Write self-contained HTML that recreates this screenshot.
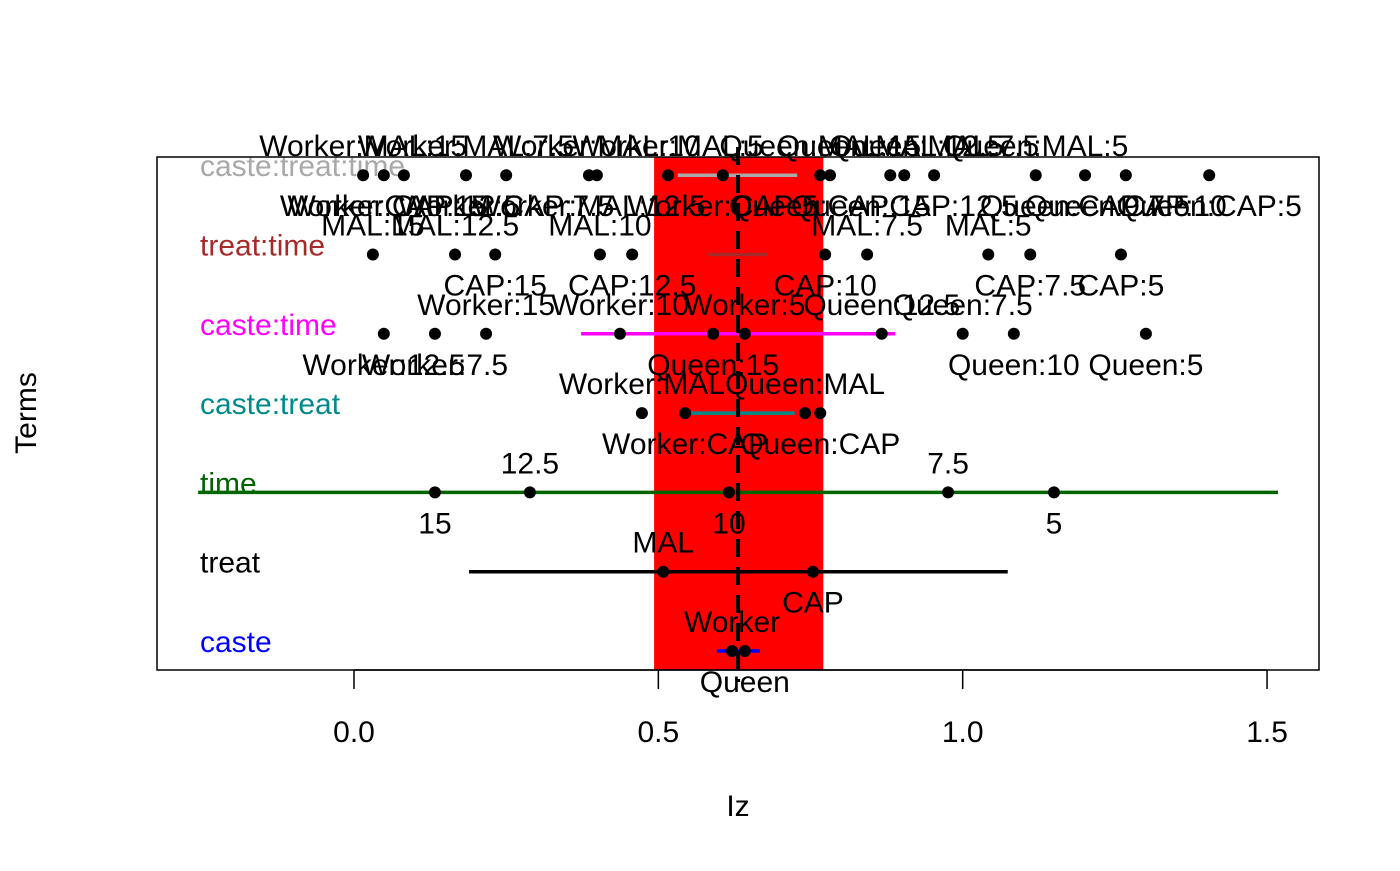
<!DOCTYPE html>
<html><head><meta charset="utf-8"><style>
html,body{margin:0;padding:0;background:#fff}
svg text{font-family:"Liberation Sans",Arial,sans-serif}
</style></head><body>
<svg id="chart" width="1400" height="866" viewBox="0 0 1400 866" xmlns="http://www.w3.org/2000/svg"></svg>
<script>
const rowNames=["caste","treat","time","caste:treat","caste:time","treat:time","caste:treat:time"];
const rowColors=["#0000ff","#000000","#006400","#008b8b","#ff00ff","#a52a2a","#a9a9a9"];
const intervalLo=[0.596,0.189,-0.256,0.552,0.373,0.582,0.532];
const intervalHi=[0.667,1.074,1.518,0.724,0.889,0.680,0.728];
const vCaste=[0.621,0.642];
const lCaste=["Worker","Queen"];
const pCaste=[1,-1];
const vTreat=[0.508,0.754];
const lTreat=["MAL","CAP"];
const pTreat=[1,-1];
const vTime=[0.133,0.289,0.616,0.976,1.150];
const lTime=["15","12.5","10","7.5","5"];
const pTime=[-1,1,-1,1,-1];
const vCT=[0.473,0.544,0.741,0.766];
const lCT=["Worker:MAL","Worker:CAP","Queen:MAL","Queen:CAP"];
const pCT=[1,-1,1,-1];
const vCTi=[0.049,0.133,0.217,0.437,0.590,0.642,0.867,1.0,1.084,1.301];
const lCTi=["Worker:12.5","Worker:7.5","Worker:15","Worker:10","Queen:15","Worker:5","Queen:12.5","Queen:7.5","Queen:10","Queen:5"];
const pCTi=[-1,-1,1,1,-1,1,1,1,-1,-1];
const vTT=[0.031,0.166,0.232,0.404,0.457,0.774,0.843,1.042,1.111,1.260];
const lTT=["MAL:15","MAL:12.5","CAP:15","MAL:10","CAP:12.5","CAP:10","MAL:7.5","MAL:5","CAP:7.5","CAP:5"];
const pTT=[1,1,-1,1,-1,-1,1,1,-1,-1];
const vCTT=[0.015,0.049,0.082,0.184,0.250,0.386,0.399,0.516,0.606,0.766,0.782,0.881,0.904,0.953,1.120,1.201,1.268,1.405];
const lCTT=["Worker:MAL:15","Worker:CAP:15","Worker:CAP:12.5","Worker:MAL:7.5","Worker:CAP:7.5","Worker:MAL:12.5","Worker:MAL:10","Worker:MAL:5","Worker:CAP:5","Queen:MAL:15","Queen:CAP:15","Queen:MAL:12.5","Queen:CAP:12.5","Queen:MAL:7.5","Queen:MAL:5","Queen:CAP:7.5","Queen:CAP:10","Queen:CAP:5"];
const pCTT=[1,-1,-1,1,-1,-1,1,1,-1,1,-1,1,-1,1,1,-1,-1,-1];
const xTicks=[0,0.5,1.0,1.5];
const xTickLabels=["0.0","0.5","1.0","1.5"];
const bandLo=0.493, bandHi=0.771, refValue=0.631;

const NS="http://www.w3.org/2000/svg";
const svg=document.getElementById("chart");
const L=157,R=1319,T=157,B=670,FS=30;
function xs(v){return 354+v*608.7;}
function ys(i){return 651-i*79.3;}
function mk(tag,attrs,parent){const e=document.createElementNS(NS,tag);for(const k in attrs)e.setAttribute(k,attrs[k]);(parent||svg).appendChild(e);return e;}

let band=mk("rect",{x:xs(bandLo),y:T,width:xs(bandHi)-xs(bandLo),height:B-T,fill:"#ff0000"});



const rowsV=[vCaste,vTreat,vTime,vCT,vCTi,vTT,vCTT];
const rowsL=[lCaste,lTreat,lTime,lCT,lCTi,lTT,lCTT];
const rowsP=[pCaste,pTreat,pTime,pCT,pCTi,pTT,pCTT];
for(let i=0;i<rowNames.length;i++){
  const y=ys(i);
  let ln=mk("line",{x1:xs(intervalLo[i]),x2:xs(intervalHi[i]),y1:y,y2:y,stroke:rowColors[i],"stroke-width":3.5});
  
  
  let t=mk("text",{x:200,y:y+1,"font-size":FS,fill:rowColors[i]});
  t.textContent=rowNames[i];
  
  
}
let ref=mk("line",{x1:xs(refValue),x2:xs(refValue),y1:147,y2:682,stroke:"#000","stroke-width":4,"stroke-dasharray":"18 10"});



for(let i=0;i<rowNames.length;i++){
  const y=ys(i);const vals=rowsV[i],labs=rowsL[i],pos=rowsP[i];
  for(let k=0;k<vals.length;k++){
    let c=mk("circle",{cx:xs(vals[k]),cy:y,r:6,fill:"#000"});
    
    
    const above=pos[k]>0;
    let t=mk("text",{x:xs(vals[k]),y:above?y-19:y+41,"font-size":FS,"text-anchor":"middle",fill:"#000"});
    t.textContent=labs[k];
    
    
  }
}
let box=mk("rect",{x:L,y:T,width:R-L,height:B-T,fill:"none",stroke:"#000","stroke-width":1.5});


let ax=mk("line",{x1:xs(0),x2:xs(1.5),y1:B,y2:B,stroke:"#000","stroke-width":1.5});


for(let k=0;k<xTicks.length;k++){
  let tk=mk("line",{x1:xs(xTicks[k]),x2:xs(xTicks[k]),y1:B,y2:B+19,stroke:"#000","stroke-width":1.5});
  
  
  let tl=mk("text",{x:xs(xTicks[k]),y:742,"font-size":FS,"text-anchor":"middle"});
  tl.textContent=xTickLabels[k];
  
  
}
let xt=mk("text",{x:738,y:816,"font-size":FS,"text-anchor":"middle"});
xt.textContent="Iz";


let yt=mk("text",{x:0,y:0,"font-size":FS,"text-anchor":"middle",transform:"translate(36,413) rotate(-90)"});
yt.textContent="Terms";


</script>
</body></html>
